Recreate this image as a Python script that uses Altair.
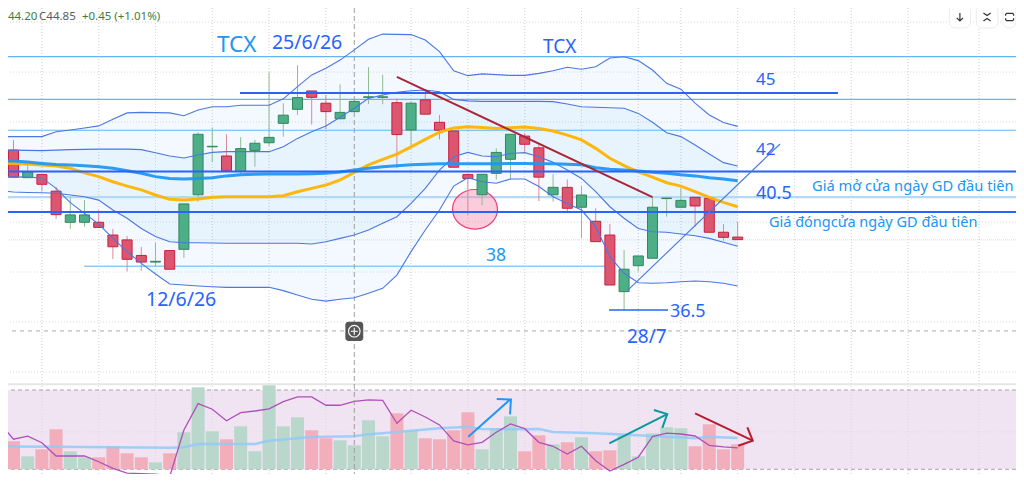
import altair as alt
import pandas as pd

# ---------- candles (price, VND thousand) ----------
opens = [43.67,42.76,41.68,41.80,41.15,39.93,39.93,39.93,39.43,39.24,38.63,38.37,38.82,38.87,41.01,42.89,42.53,41.93,42.75,43.05,
         43.81,44.36,45.08,44.60,43.99,44.27,44.83,44.83,44.62,43.55,44.73,43.85,43.51,41.80,41.01,41.85,42.40,43.31,42.85,41.01,
         41.30,40.52,39.97,39.43,37.21,38.23,38.52,40.86,40.52,40.91,40.87,39.54,39.35]
closes = [42.88,41.70,41.90,41.42,40.23,40.22,40.22,39.73,38.97,38.48,38.37,38.40,38.09,40.65,43.38,42.91,41.95,42.82,43.03,43.26,
          44.13,44.82,44.83,44.27,44.24,44.67,44.85,44.85,43.37,44.60,44.17,43.54,42.09,41.65,41.81,42.67,43.38,42.99,41.70,41.30,
          40.48,41.00,39.17,37.47,38.09,38.61,40.52,40.88,40.79,40.57,39.54,39.34,39.25]
highs = [43.75,43.16,42.25,41.80,41.31,40.92,40.80,40.41,39.67,39.39,38.96,39.13,38.82,40.65,43.46,43.65,43.38,43.27,43.16,45.82,
         44.60,46.09,45.08,44.92,45.34,44.70,46.01,45.71,44.79,44.66,45.12,44.14,43.51,41.80,41.81,42.83,43.38,43.43,43.00,41.82,
         41.61,41.35,40.48,39.86,38.84,38.61,40.93,40.88,41.26,40.91,40.87,39.86,39.95]
lows = [42.88,41.70,41.68,41.16,40.06,39.67,39.76,39.73,38.49,38.00,38.03,38.19,38.09,38.53,40.74,42.29,41.95,41.82,42.11,42.93,
        43.29,44.14,43.76,43.58,43.99,44.27,44.57,44.56,42.05,42.93,44.17,43.18,42.09,40.22,40.60,41.61,41.59,42.63,40.76,40.74,
        40.35,39.31,39.17,37.47,36.49,38.00,38.52,40.15,40.52,39.76,39.54,39.21,39.25]

# ---------- overlays ----------
band_a_upper = [43.29,43.29,43.29,43.29,43.48,43.55,43.63,43.71,43.97,44.22,44.24,44.23,44.22,44.11,44.33,44.46,44.46,44.52,44.52,44.52,
                44.77,45.25,45.71,45.97,46.29,46.69,47.11,47.31,47.30,47.29,47.08,46.62,45.87,45.68,45.75,45.72,45.69,45.69,45.77,45.87,
                46.01,45.93,46.03,46.37,46.42,46.27,45.90,45.38,45.15,44.60,44.14,43.84,43.69]
band_a_lower = [41.71,41.71,41.70,41.67,41.26,40.70,40.28,39.86,39.30,38.78,38.32,37.90,37.51,37.47,37.43,37.40,37.38,37.38,37.38,37.38,
                37.25,37.08,36.91,36.84,36.91,36.97,37.15,37.34,37.86,38.78,39.63,40.41,41.35,41.68,41.52,41.46,41.63,41.63,41.33,40.93,
                40.67,40.41,39.76,38.58,37.93,37.56,37.54,37.56,37.60,37.63,37.60,37.54,37.43]
band_b_upper = [42.76,42.76,42.75,42.74,42.76,42.78,42.79,42.80,42.80,42.80,42.78,42.66,42.53,42.45,42.57,42.67,42.70,42.70,42.70,42.70,
                42.89,43.22,43.48,43.71,44.05,44.40,44.79,44.92,45.03,45.09,45.12,45.05,44.75,44.69,44.67,44.67,44.67,44.67,44.67,44.66,
                44.57,44.46,44.44,44.42,44.40,44.20,43.85,43.44,43.29,42.96,42.61,42.27,42.14]
band_b_lower = [41.16,41.12,41.10,41.09,41.07,41.00,40.93,40.80,40.41,40.09,39.69,39.37,39.17,39.13,39.13,39.12,39.11,39.11,39.11,39.11,
                39.11,39.11,39.08,39.17,39.30,39.43,39.63,39.89,40.15,40.67,41.26,41.98,42.50,42.67,42.53,42.50,42.63,42.66,42.50,42.28,
                41.98,41.65,41.13,40.54,40.09,39.69,39.56,39.54,39.47,39.40,39.30,39.15,38.99]
ma_orange = [42.24,42.24,42.22,42.18,42.14,42.05,41.87,41.72,41.52,41.35,41.20,41.00,40.83,40.80,40.84,40.91,40.93,40.93,40.93,40.93,
             40.97,41.13,41.26,41.39,41.59,41.89,42.18,42.40,42.60,42.89,43.18,43.46,43.63,43.68,43.65,43.61,43.64,43.67,43.61,43.51,
             43.35,43.16,42.83,42.44,42.15,41.91,41.70,41.48,41.35,41.13,40.91,40.71,40.54]
ma_blue = [42.33,42.33,42.29,42.24,42.20,42.18,42.15,42.11,42.05,41.95,41.85,41.72,41.65,41.63,41.65,41.68,41.75,41.79,41.81,41.82,
           41.82,41.82,41.83,41.85,41.90,41.98,42.05,42.11,42.15,42.19,42.21,42.23,42.23,42.23,42.23,42.23,42.24,42.24,42.23,42.23,
           42.21,42.19,42.07,42.01,41.98,41.94,41.89,41.85,41.79,41.75,41.68,41.63,41.56]

# ---------- lower panel ----------
volume = [1.5,2.8,1.3,2.0,4.0,1.8,1.2,1.2,2.3,1.6,1.2,0.7,1.6,3.7,8.2,3.8,3.0,4.3,1.8,8.4,
          4.3,5.2,3.9,3.1,2.9,2.4,4.9,3.3,5.6,3.9,3.1,3.0,3.9,5.7,2.0,4.1,5.3,1.8,3.4,2.5,
          2.7,3.2,1.8,1.9,3.4,1.3,3.6,4.2,4.1,2.3,4.5,2.0,2.5]
vol_ma_n = [0,4,12,13,14,18,19,21,22,25,26,27,29,31,33,34,36,38,39,42,45,47,49,50,52]
vol_ma = [2.30,2.25,2.16,2.2,2.53,2.53,2.86,3.10,3.23,3.30,3.50,3.60,3.86,4.10,4.26,4.03,4.00,4.03,3.73,3.60,3.40,3.26,3.10,3.26,3.13]
rsi = [53.7,45.2,46.7,43.4,36.7,36.7,36.7,33.8,30.5,28.1,27.8,27.6,26.3,49.8,63.1,60.3,54.5,58.6,59.4,60.5,
       64.1,66.5,66.5,62.3,62.3,64.3,65.0,64.8,53.2,59.8,56.4,52.4,44.3,42.3,43.6,48.7,52.9,50.5,43.6,41.6,
       37.7,41.6,34.3,29.1,32.5,36.1,46.5,48.2,47.8,46.8,42.1,41.3,40.8]

# ---------- levels and grid ----------
levels_thin = [46.43, 44.75, 43.54]
levels_strong = [41.92, 40.33]
grid_prices = [47.78, 45.82, 43.86, 41.90, 39.94, 37.98, 36.02, 34.06, 31.71]
grid_bars = [3, 7, 11, 15, 19, 23, 29, 33, 37, 41, 45, 48, 52, 56, 60, 64, 69]

labels = [
    ("44.20", 0.61, 47.97, "#3f7d3c", 11.5), ("C44.85", 2.8, 47.97, "#5a5a5a", 11.5),
    ("+0.45 (+1.01%)", 5.82, 47.97, "#3f7d3c", 11.5),
    ("TCX", 15.33, 46.88, "#2196f3", 22.5), ("25/6/26", 19.2, 46.96, "#2962ff", 19.5),
    ("TCX", 38.29, 46.80, "#2962ff", 19), ("45", 53.29, 45.51, "#2962ff", 17),
    ("42", 53.29, 42.76, "#2962ff", 17), ("40.5", 53.29, 41.04, "#2962ff", 18),
    ("Giá mở cửa ngày GD đầu tiên", 57.23, 41.31, "#2196f3", 14.7),
    ("Giá đóngcửa ngày GD đầu tiên", 54.2, 39.90, "#2196f3", 14.5),
    ("38", 34.27, 38.61, "#2196f3", 17.5), ("12/6/26", 10.33, 36.88, "#2962ff", 19.5),
    ("36.5", 47.23, 36.41, "#2962ff", 18), ("28/7", 44.2, 35.43, "#2962ff", 19),
]

FONT = "Noto Sans"
W, H = 1008, 466
n_axis = list(range(len(opens)))
xs = alt.Scale(domain=[0.613, 71.6], nice=False, zero=False, padding=0)
ps = alt.Scale(domain=[30.06, 48.333], nice=False, zero=False)
vs = alt.Scale(domain=[0, 10], range=[461.3, 361.3], nice=False)
rs = alt.Scale(domain=[30, 70], range=[461.3, 382.0], nice=False, zero=False)
X = alt.X("n:Q", scale=xs, axis=None)
Y = alt.Y("p:Q", scale=ps, axis=None)
YR = alt.Y("r:Q", scale=rs, axis=None)
YV = alt.Y("v:Q", scale=vs, axis=None)

def seg(ns, ps_, color, width, dash=None, opacity=1.0):
    df = pd.DataFrame({"n": ns, "p": ps_, "i": range(len(ns))})
    kw = {"strokeDash": dash} if dash else {}
    return alt.Chart(df).mark_line(color=color, strokeWidth=width, opacity=opacity, clip=True, **kw).encode(
        x=X, y=Y, order="i:Q")

def hline(p, color, width, dash=None):
    kw = {"strokeDash": dash} if dash else {}
    return alt.Chart(pd.DataFrame({"p": [p]})).mark_rule(color=color, strokeWidth=width, **kw).encode(y=Y)

def symbol(shape, n, p, size, stroke, width, **kw):
    return alt.Chart(pd.DataFrame({"n": [n], "p": [p]})).mark_point(
        shape=shape, size=size, stroke=stroke, strokeWidth=width, opacity=1, **kw).encode(x=X, y=Y)

def box(n1, n2, p1, p2, **kw):
    df = pd.DataFrame({"n": [n1], "n2": [n2], "p": [p1], "p2": [p2]})
    return alt.Chart(df).mark_rect(**kw).encode(x=X, x2="n2:Q", y=Y, y2="p2:Q")

df = pd.DataFrame({
    "n": n_axis, "o": opens, "c": closes, "h": highs, "l": lows,
    "au": band_a_upper, "al": band_a_lower, "bu": band_b_upper, "bl": band_b_lower,
    "mo": ma_orange, "mb": ma_blue, "v": volume, "r": rsi,
})
up = df.c >= df.o
df["vc"] = ["#bad7cc" if u else "#f3aebb" for u in up]
df["fill"] = ["#4caf87" if u else "#dd5670" for u in up]
df["edge"] = ["#35855c" if u else "#c5203e" for u in up]
df["wick"] = ["#8fbc8f" if u else "#d98a96" for u in up]
base = alt.Chart(df)

def col(name):
    return alt.Color(f"{name}:N", scale=None, legend=None)

layers = []
# grid
layers.append(alt.Chart(pd.DataFrame({"n": grid_bars})).mark_rule(color="#e3e3e3", strokeWidth=1, strokeDash=[1, 2]).encode(x=X))
# lower panel
layers.append(alt.Chart(pd.DataFrame({"r": [30], "r2": [70]})).mark_rect(color="#f0e3f2").encode(y=YR, y2="r2:Q"))
for p in grid_prices:
    layers.append(hline(p, "#dcdcdc", 1, [1, 2]))
layers.append(alt.Chart(pd.DataFrame({"n": grid_bars})).mark_rule(color="#e0d4e2", strokeWidth=1, strokeDash=[1, 2]).encode(x=X))
layers.append(alt.Chart(pd.DataFrame({"r": [30, 70]})).mark_rule(color="#aaa3ab", strokeWidth=1, strokeDash=[4, 3]).encode(y=YR))
layers.append(hline(33.58, "#e6e6e6", 2))
layers.append(base.mark_bar(size=13, clip=True).encode(x=X, y=YV, y2=alt.datum(0), color=col("vc")))
layers.append(alt.Chart(pd.DataFrame({"n": vol_ma_n, "v": vol_ma})).mark_line(color="#90caf9", strokeWidth=2.5, clip=True, opacity=.85).encode(x=X, y=YV))
layers.append(base.mark_line(color="#b04fbc", strokeWidth=1.3, clip=True).encode(x=X, y=YR))
# Bollinger fills
layers.append(base.mark_area(color="#2196f3", opacity=0.055, clip=True).encode(x=X, y=alt.Y("au:Q", scale=ps, axis=None), y2="al:Q"))
layers.append(base.mark_area(color="#2196f3", opacity=0.055, clip=True).encode(x=X, y=alt.Y("bu:Q", scale=ps, axis=None), y2="bl:Q"))
# level lines under candles
layers.append(hline(35.67, "#aaaaaa", 1, [4, 4]))
for p in levels_thin:
    layers.append(hline(p, "#64b5f6", 1.2))
layers.append(seg([5.97, 43.2], [38.21, 38.21], "#90caf9", 1.5))
layers.append(hline(40.92, "#b3d9f7", 2.2))
layers.append(hline(39.24, "#f8c9d0", 1, [1, 1]))
# crosshair
layers.append(alt.Chart(pd.DataFrame({"n": [25]})).mark_rule(color="#9e9e9e", strokeWidth=1, strokeDash=[5, 3]).encode(x=X))
# ellipse
layers.append(symbol("M-1 0A1 .88 0 1 0 1 0A1 .88 0 1 0 -1 0Z", 33.5, 40.44, 2025, "#ec407a", 1.2,
                     filled=True, fill="#f48fb1", fillOpacity=0.45))
# candles
layers.append(base.mark_rule(strokeWidth=1, clip=True).encode(x=X, y=alt.Y("h:Q", scale=ps, axis=None), y2="l:Q", color=col("wick")))
layers.append(base.mark_bar(size=10, strokeWidth=1, clip=True).encode(
    x=X, y=alt.Y("o:Q", scale=ps, axis=None), y2="c:Q", color=col("fill"), stroke=alt.Stroke("edge:N", scale=None)))
# band outlines and moving averages
for name in ["au", "al", "bu", "bl"]:
    layers.append(base.mark_line(color="#4a78e2", strokeWidth=1.1, clip=True).encode(x=X, y=alt.Y(f"{name}:Q", scale=ps, axis=None)))
layers.append(base.mark_line(color="#ffb300", strokeWidth=3, clip=True, opacity=.95).encode(x=X, y=alt.Y("mo:Q", scale=ps, axis=None)))
layers.append(base.mark_line(color="#2196f3", strokeWidth=3, clip=True, opacity=.95).encode(x=X, y=alt.Y("mb:Q", scale=ps, axis=None)))
# drawings
layers.append(seg([16.95, 59.06], [45.0, 45.0], "#2962ff", 2.2))
for p in levels_strong:
    layers.append(hline(p, "#2962ff", 2))
layers.append(seg([42.94, 47.09], [36.49, 36.49], "#2962ff", 1.5))
layers.append(seg([28, 46], [45.63, 40.92], "#ab2438", 2))
layers.append(seg([44.27, 54.98], [37.27, 43.0], "#4a78e2", 1.1))
layers.append(seg([33.03, 35.97], [31.52, 32.98], "#2196f3", 2))
layers.append(seg([35.03, 36.03, 35.97], [33.0, 32.98, 32.4], "#2196f3", 2))
layers.append(seg([42.96, 47.04], [31.26, 32.41], "#089aa0", 2))
layers.append(seg([46.1, 47.04, 46.69], [32.57, 32.41, 31.87], "#089aa0", 2))
layers.append(seg([49, 53.06], [32.44, 31.37], "#b71c2c", 2))
layers.append(seg([52.68, 53.06, 52.04], [31.89, 31.37, 31.17], "#b71c2c", 2))
# zoom control
layers.append(box(24.37, 25.63, 36.03, 35.28, color="#555555", cornerRadius=3))
layers.append(symbol("circle", 25, 35.66, 133, "#ffffff", 1.1))
layers.append(symbol("M-1 0L1 0M0 -1L0 1", 25, 35.66, 49, "#ffffff", 1.1))
# top right buttons
for a, b in [(66.9, 68.4), (68.8, 70.33), (70.68, 71.6)]:
    layers.append(box(a, b, 48.45, 47.55, fill="#ffffff", stroke="#ececec", strokeWidth=1, cornerRadius=6))
layers.append(symbol("M0 -1L0 1M-.8 .2L0 1L.8 .2", 67.65, 47.98, 64, "#333333", 1.2))
layers.append(symbol("M-.9 -1L0 -.35L.9 -1M-.9 1L0 .35L.9 1", 69.56, 47.98, 64, "#333333", 1.2))
layers.append(symbol("M-1 -.3L-1 -.7L-.75 -.9L.75 -.9L1 -.7L1 -.3M-1 .3L-1 .7L-.75 .9L.75 .9L1 .7L1 .3", 71.15, 47.98, 64, "#333333", 1.2))
# text
t = pd.DataFrame(labels, columns=["t", "n", "p", "c", "s"])
layers.append(alt.Chart(t).mark_text(align="left", baseline="middle", font=FONT).encode(
    x=X, y=Y, text="t:N", color=col("c"), size=alt.Size("s:Q", scale=None, legend=None)))

chart = alt.layer(*layers).resolve_scale(y="independent").properties(
    width=W, height=H, padding=0, autosize=alt.AutoSizeParams(type="none"),
    background="#ffffff",
).configure_view(stroke=None)

chart.save("out.html", embed_options={"renderer": "svg", "actions": False})
